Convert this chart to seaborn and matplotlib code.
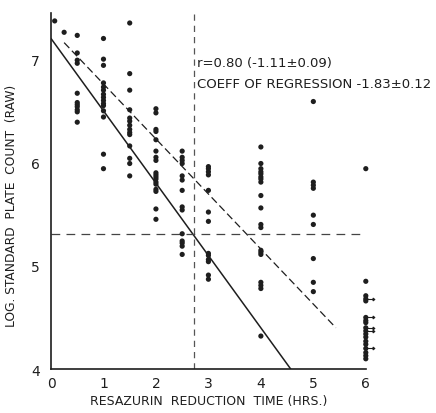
#!/usr/bin/env python
"""Log standard plate count vs resazurin reduction time, with regression lines."""
import numpy as np
import pandas as pd
import matplotlib
matplotlib.use("Agg")
import matplotlib.pyplot as plt
from matplotlib.path import Path
import seaborn as sns

# --- Data (hours -> log count) ---
TIMES = [0.07, 0.25, 0.5, 1.0, 1.5, 2.0, 2.5, 3.0, 4.0, 5.0, 6.0]
COUNTS = [
    [7.37],
    [7.26],
    [7.23, 7.06, 6.99, 6.96, 6.67, 6.58, 6.56, 6.54, 6.51, 6.49, 6.39],
    [7.20, 7.00, 6.94, 6.77, 6.73, 6.70, 6.66, 6.63, 6.60, 6.57, 6.55, 6.50, 6.44, 6.08, 5.94],
    [7.35, 6.86, 6.70, 6.51, 6.43, 6.40, 6.36, 6.32, 6.29, 6.27, 6.16, 6.04, 5.99, 5.87],
    [6.52, 6.48, 6.32, 6.30, 6.22, 6.11, 6.05, 6.02, 5.90, 5.88, 5.86, 5.84, 5.81, 5.79,
     5.74, 5.72, 5.55, 5.45],
    [6.11, 6.05, 6.02, 5.99, 5.87, 5.83, 5.73, 5.57, 5.54, 5.31, 5.24, 5.22, 5.19, 5.11],
    [5.96, 5.94, 5.91, 5.88, 5.73, 5.52, 5.43, 5.12, 5.10, 5.06, 5.04, 4.91, 4.87],
    [6.15, 5.99, 5.94, 5.91, 5.89, 5.86, 5.84, 5.81, 5.68, 5.56, 5.40, 5.37, 5.15, 5.13,
     5.11, 4.84, 4.81, 4.78, 4.32],
    [6.59, 5.81, 5.78, 5.75, 5.49, 5.40, 5.07, 4.84, 4.75],
    [5.94, 4.85, 4.71, 4.68, 4.66, 4.50, 4.47, 4.45, 4.40, 4.37, 4.34, 4.31, 4.27, 4.24,
     4.20, 4.16, 4.13, 4.10],
]
# samples still unreduced at 6 hrs (drawn with a small arrow)
ARROW_COUNTS = [4.68, 4.50, 4.40, 4.37, 4.20]

# regression lines (end points)
SOLID_X = [0.0, 4.57]
SOLID_Y = [7.20, 4.00]
DASH_X = [0.25, 5.43]
DASH_Y = [7.16, 4.40]
MEAN_TIME = 2.72
MEAN_COUNT = 5.31

df = pd.DataFrame(
    [(t, c) for t, col in zip(TIMES, COUNTS) for c in col],
    columns=["time", "count"],
)

INK = "#1e1e1e"
sns.set_style("white")
plt.rcParams["font.family"] = ["DejaVu Sans"]

fig = plt.figure(figsize=(4.36, 4.14), dpi=100)
ax = fig.add_axes([0.117, 0.106, 0.722, 0.861])

sns.scatterplot(data=df, x="time", y="count", ax=ax, color=INK, s=14,
                edgecolor="none", clip_on=False, zorder=3)

# little arrows to the right of the open-ended 6 hr samples
arrow = Path([(0, 0), (1.0, 0), (0.75, 0.18), (1.0, 0), (0.75, -0.18)],
             [Path.MOVETO, Path.LINETO, Path.MOVETO, Path.LINETO, Path.LINETO])
ax.plot([TIMES[-1]] * len(ARROW_COUNTS), ARROW_COUNTS, linestyle="none",
        marker=arrow, markersize=12, markeredgewidth=0.8, color=INK, clip_on=False)

sns.lineplot(x=SOLID_X, y=SOLID_Y, ax=ax, color=INK, lw=1.1)
sns.lineplot(x=DASH_X, y=DASH_Y, ax=ax, color=INK, lw=0.9, linestyle=(0, (6, 3)))
ax.axvline(MEAN_TIME, color="#555555", lw=0.9, linestyle=(0, (5, 4)))
ax.axhline(MEAN_COUNT, color="#444444", lw=0.9, linestyle=(0, (7, 5)))

ax.text(2.78, 6.97, "r=0.80 (-1.11\u00b10.09)", fontsize=9.5, color=INK,
        va="center", ha="left")
ax.text(2.78, 6.76, "COEFF OF REGRESSION -1.83\u00b10.12", fontsize=9.5, color=INK,
        va="center", ha="left")

ax.set_xlim(0, 6)
ax.set_ylim(4, 7.45)
ax.set_xticks(range(0, 7))
ax.set_yticks([4, 5, 6, 7])
ax.tick_params(axis="x", direction="in", length=4, width=1, colors=INK,
               labelsize=10, pad=5)
ax.tick_params(axis="y", direction="out", length=4, width=1, colors=INK,
               labelsize=10, pad=4)
ax.set_xlabel("RESAZURIN  REDUCTION  TIME (HRS.)", fontsize=9, color=INK,
              labelpad=3)
ax.set_ylabel("LOG. STANDARD  PLATE  COUNT  (RAW)", fontsize=8.8, color=INK)
ax.yaxis.set_label_coords(-0.105, 0.46)

sns.despine(ax=ax)
for side in ["left", "bottom"]:
    ax.spines[side].set_color(INK)
    ax.spines[side].set_linewidth(1.2)

fig.savefig("out.png", dpi=100)
